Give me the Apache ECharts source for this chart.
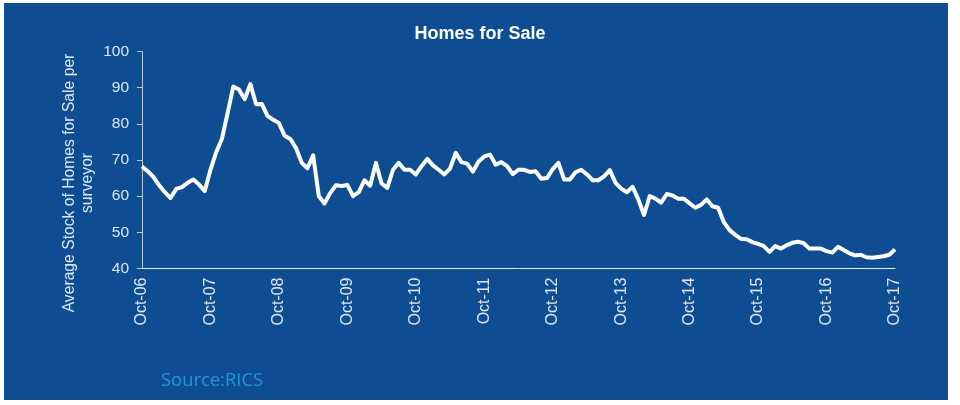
<!DOCTYPE html>
<html>
<head>
<meta charset="utf-8">
<script src="https://cdn.jsdelivr.net/npm/echarts@6/dist/echarts.min.js"></script>
<style>
html,body{margin:0;padding:0;background:#ffffff;}
#chart{width:960px;height:405px;}
</style>
</head>
<body>
<div id="chart"></div>
<script>
// ---- data ----
const monthNames = ['Oct','Nov','Dec','Jan','Feb','Mar','Apr','May','Jun','Jul','Aug','Sep'];
const startYear = 2006;
const monthCount = 133; // Oct-06 .. Oct-17
const stockPerSurveyor = [
  68.2, 66.9, 65.3, 63.0, 61.1, 59.5, 62.0, 62.5, 63.7, 64.6, 63.2, 61.4,
  67.3, 72.1, 75.8, 82.9, 90.3, 89.5, 86.8, 91.0, 85.4, 85.5, 82.2, 81.1,
  80.2, 76.7, 75.8, 73.3, 69.2, 67.7, 71.3, 60.0, 58.0, 60.9, 63.0, 62.8,
  63.1, 60.0, 61.1, 64.4, 62.9, 69.2, 63.5, 62.3, 67.3, 69.2, 67.3, 67.3,
  66.0, 68.3, 70.3, 68.5, 67.3, 66.0, 67.6, 72.0, 69.4, 69.0, 66.8, 69.6,
  71.0, 71.5, 68.7, 69.4, 68.3, 66.1, 67.3, 67.3, 66.7, 66.9, 64.8, 65.0,
  67.5, 69.2, 64.6, 64.6, 66.6, 67.3, 66.0, 64.4, 64.4, 65.5, 67.2, 63.7,
  62.1, 61.1, 62.6, 59.1, 54.8, 60.0, 59.3, 58.2, 60.6, 60.2, 59.3, 59.3,
  58.0, 56.8, 57.6, 59.1, 57.2, 56.8, 52.8, 50.6, 49.3, 48.2, 48.1, 47.3,
  46.8, 46.2, 44.6, 46.2, 45.5, 46.4, 47.1, 47.4, 47.0, 45.5, 45.5, 45.5,
  44.8, 44.4, 46.0, 45.1, 44.2, 43.6, 43.8, 43.1, 43.0, 43.2, 43.4, 43.8,
  45.3
];
const yTicks = [40, 50, 60, 70, 80, 90, 100];
const chartTitle = 'Homes for Sale';
const yAxisTitle = 'Average Stock of Homes for Sale per\nsurveyor';
const sourceText = 'Source:RICS';

// build month labels (Oct-06, Nov-06, ...)
const categories = [];
for (let i = 0; i < monthCount; i++) {
  const m = i % 12;
  const yr = startYear + Math.floor((i + 9) / 12);
  categories.push(monthNames[m] + '-' + String(yr % 100).padStart(2, '0'));
}

const BG = '#0f4d93';
const FONT = 'Liberation Sans, Arial, sans-serif';
const chart = echarts.init(document.getElementById('chart'), null, {renderer: 'canvas'});
chart.setOption({
  backgroundColor: '#ffffff',
  animation: false,
  title: {
    text: chartTitle,
    left: 'center',
    top: 20,
    textStyle: {color: '#ffffff', fontSize: 18, fontWeight: 'bold', fontFamily: FONT}
  },
  graphic: [
    {type: 'rect', z: -10, silent: true, shape: {x: 4, y: 3, width: 944, height: 397}, style: {fill: BG}},
    {type: 'text', z: 10, x: 79, y: 183, rotation: Math.PI / 2,
      style: {text: yAxisTitle, fill: '#dfe7f2', font: '15.7px "Liberation Sans", Arial, sans-serif',
        align: 'center', verticalAlign: 'middle', lineHeight: 18}},
    {type: 'text', z: 10, x: 161, y: 381,
      style: {text: sourceText, fill: '#1f98d8', font: '18.4px "Open Sans", sans-serif', verticalAlign: 'middle'}}
  ],
  grid: {left: 142, right: 65, top: 51.5, bottom: 136.5, containLabel: false},
  xAxis: {
    type: 'category',
    data: categories,
    boundaryGap: false,
    axisLine: {show: true, lineStyle: {color: '#e6edf6', width: 1}},
    axisTick: {show: false},
    axisLabel: {
      interval: 11, rotate: 90, margin: 9, color: '#dfe7f2', fontSize: 16, fontFamily: FONT
    },
    splitLine: {show: false}
  },
  yAxis: {
    type: 'value',
    min: yTicks[0],
    max: yTicks[yTicks.length - 1],
    interval: 10,
    axisLine: {show: true, lineStyle: {color: '#b9c8e0', width: 1}},
    axisTick: {show: true, length: 5, lineStyle: {color: '#b9c8e0'}},
    axisLabel: {margin: 13, color: '#dfe7f2', fontSize: 15.5, fontFamily: FONT},
    splitLine: {show: false}
  },
  series: [{
    type: 'line',
    data: stockPerSurveyor,
    showSymbol: false,
    symbol: 'none',
    smooth: false,
    lineStyle: {color: '#ffffff', width: 4, join: 'round'}
  }]
});
</script>
</body>
</html>
